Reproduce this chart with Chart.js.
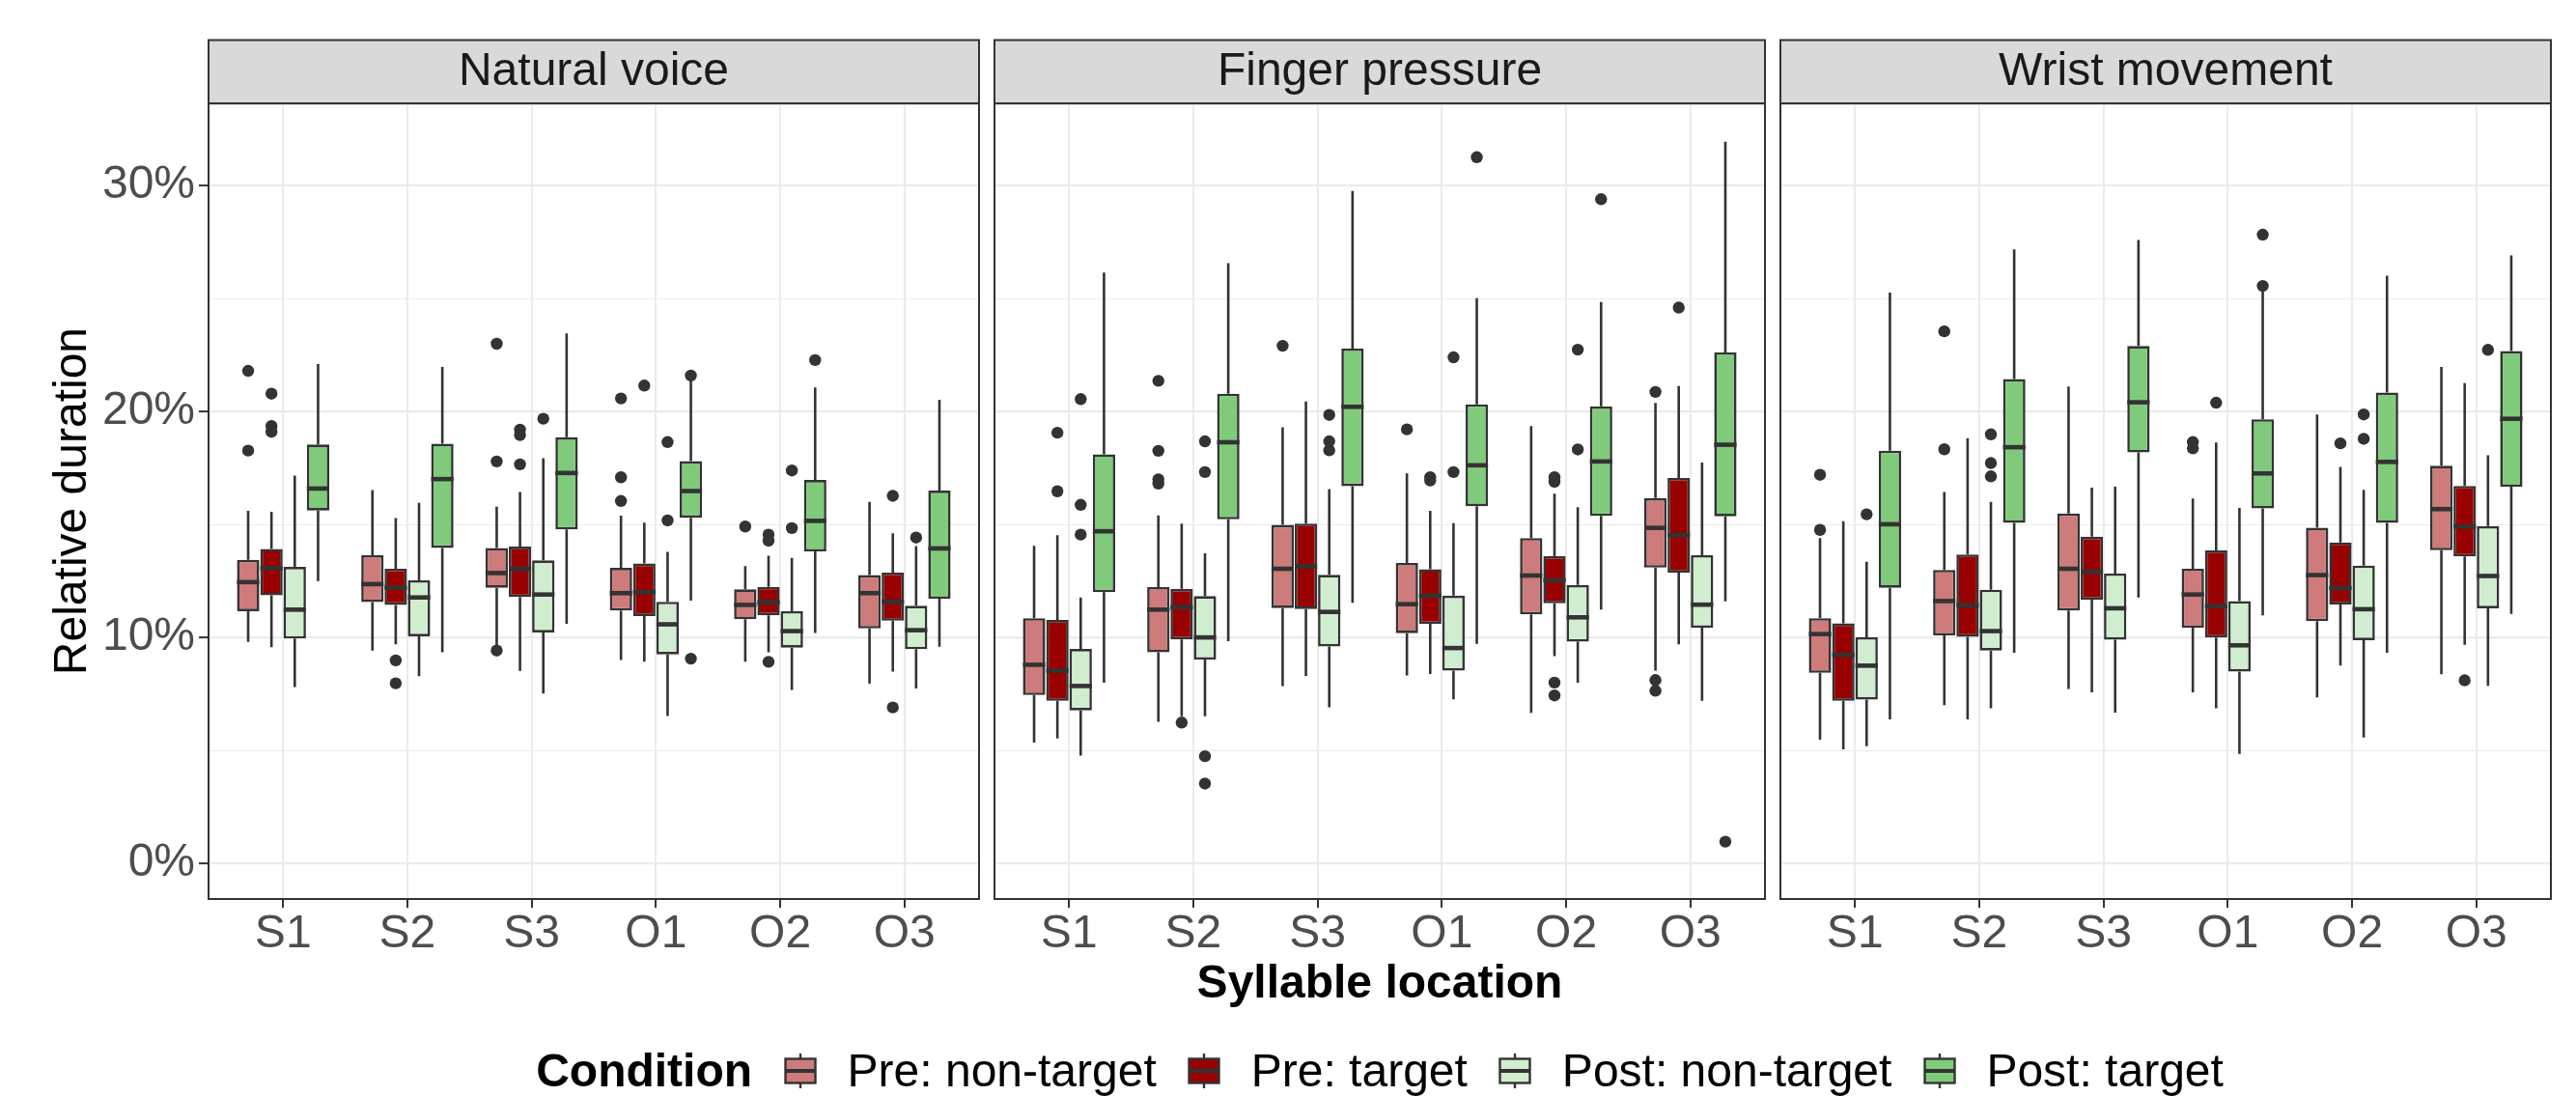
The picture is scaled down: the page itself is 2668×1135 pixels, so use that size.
<!DOCTYPE html>
<html>
<head>
<meta charset="utf-8">
<title>Relative duration by syllable location</title>
<script src="https://cdn.jsdelivr.net/npm/chart.js@4.4.1/dist/chart.umd.min.js"></script>
<style>
  html, body { margin: 0; padding: 0; background: #ffffff; }
  body { width: 2668px; height: 1135px; position: relative; overflow: hidden;
         font-family: 'Liberation Sans', Arial, Helvetica, sans-serif; }
  .panel { position: absolute; top: 0; }
  #legend { position: absolute; left: 216px; width: 2426px; top: 1081px; height: 56px;
            display: flex; justify-content: center; align-items: center;
            font-size: 48px; line-height: 56px; color: #000000; white-space: nowrap; }
  #legend .title { font-weight: bold; margin-right: 33px; }
  #legend svg { margin-right: 31.5px; display: block; }
  #legend .lab { margin-right: 32.5px; }
  #legend .lab:last-child { margin-right: 0; }
</style>
</head>
<body>
<canvas id="panel-natural" class="panel" width="1020" height="1135" style="left:0px"></canvas>
<canvas id="panel-finger" class="panel" width="810" height="1135" style="left:1024px"></canvas>
<canvas id="panel-wrist" class="panel" width="810" height="1135" style="left:1838px"></canvas>
<div id="legend"></div>

<script>
// Categories and labels
var syllables = ['S1', 'S2', 'S3', 'O1', 'O2', 'O3'];
var conditions = ['Pre: non-target', 'Pre: target', 'Post: non-target', 'Post: target'];
var facets = ['Natural voice', 'Finger pressure', 'Wrist movement'];
var majorTicks = [0, 10, 20, 30];

// Box statistics per syllable: [lower whisker, Q1, median, Q3, upper whisker] (%)
// Natural voice
var natPreNon  = [[9.8, 11.16, 12.45, 13.44, 15.6], [9.42, 11.56, 12.36, 13.64, 16.52], [9.65, 12.2, 12.85, 13.96, 15.79],
                  [9.0, 11.19, 11.96, 13.08, 15.39], [8.92, 10.81, 11.44, 12.13, 13.16], [7.95, 10.4, 11.96, 12.76, 16.0]];
var natPreTar  = [[9.57, 11.86, 13.06, 13.92, 15.56], [9.69, 11.44, 12.2, 13.04, 15.28], [8.52, 11.79, 13.04, 14.02, 16.44],
                  [8.92, 10.95, 12.01, 13.27, 15.08], [9.34, 10.98, 11.56, 12.24, 13.62], [8.49, 10.74, 11.58, 12.87, 14.61]];
var natPostNon = [[7.8, 9.95, 11.23, 13.12, 17.16], [8.28, 10.05, 11.77, 12.53, 15.96], [7.51, 10.22, 11.9, 13.41, 17.93],
                  [6.52, 9.25, 10.58, 11.58, 13.79], [7.67, 9.55, 10.28, 11.16, 13.52], [7.74, 9.48, 10.32, 11.4, 14.04]];
var natPostTar = [[12.5, 15.62, 16.59, 18.54, 22.1], [9.34, 13.96, 17.01, 18.58, 21.97], [10.6, 14.78, 17.28, 18.86, 23.46],
                  [11.63, 15.3, 16.48, 17.81, 21.4], [10.2, 13.81, 15.16, 16.97, 21.07], [9.59, 11.71, 13.94, 16.5, 20.52]];
var natPreNonOut  = [[21.8, 18.27], [], [23.0, 17.79, 9.42], [20.58, 17.09, 16.04], [14.91], []];
var natPreTarOut  = [[20.79, 19.36, 19.1], [8.98, 7.97], [19.2, 18.96, 17.66], [21.15], [14.55, 14.28, 8.92], [16.27, 6.9]];
var natPostNonOut = [[], [], [19.68], [18.65, 15.18], [17.39, 14.84], [14.42]];
var natPostTarOut = [[], [], [], [21.59, 9.06], [22.28], []];

// Finger pressure
var fpPreNon  = [[5.34, 7.45, 8.79, 10.85, 14.06], [6.26, 9.34, 11.23, 12.23, 15.4], [7.85, 11.3, 13.04, 14.98, 19.3],
                 [8.32, 10.19, 11.47, 13.3, 17.26], [6.66, 11.02, 12.74, 14.4, 19.36], [8.53, 13.09, 14.85, 16.17, 20.38]];
var fpPreTar  = [[5.53, 7.19, 8.53, 10.77, 14.53], [6.51, 9.91, 11.34, 12.15, 15.04], [8.3, 11.26, 13.15, 15.04, 20.45],
                 [8.38, 10.6, 11.85, 13.02, 15.6], [9.17, 11.51, 12.53, 13.6, 16.36], [9.7, 12.87, 14.53, 17.06, 21.13]];
var fpPostNon = [[4.77, 6.77, 7.85, 9.49, 11.77], [6.51, 9.02, 10.0, 11.83, 13.72], [6.91, 9.6, 11.13, 12.77, 16.57],
                 [7.26, 8.53, 9.53, 11.85, 15.06], [8.0, 9.81, 10.89, 12.32, 15.77], [7.19, 10.43, 11.45, 13.64, 17.74]];
var fpPostTar = [[8.0, 12.0, 14.7, 18.11, 26.15], [9.83, 15.23, 18.64, 20.79, 26.57], [11.53, 16.7, 20.21, 22.79, 29.77],
                 [9.72, 15.81, 17.62, 20.32, 25.02], [11.23, 15.38, 17.79, 20.23, 24.85], [11.6, 15.36, 18.53, 22.62, 31.94]];
var fpPreNonOut  = [[], [21.36, 18.26, 17.0, 16.81], [22.91], [19.21], [], [20.87, 8.11, 7.64]];
var fpPreTarOut  = [[19.06, 16.47], [6.23], [], [17.09, 16.95], [17.09, 16.89, 8.0, 7.43], [24.6]];
var fpPostNonOut = [[20.55, 15.87, 14.55], [18.68, 17.32, 4.74, 3.53], [19.85, 18.68, 18.28], [22.4, 17.32], [22.74, 18.32], []];
var fpPostTarOut = [[], [], [], [31.26], [29.4], [0.96]];

// Wrist movement
var wmPreNon  = [[5.47, 8.43, 10.15, 10.85, 14.4], [7.0, 10.09, 11.61, 12.99, 16.44], [7.72, 11.19, 13.04, 15.49, 21.11],
                 [7.57, 10.43, 11.9, 13.04, 16.15], [7.34, 10.72, 12.76, 14.86, 19.87], [8.37, 13.86, 15.68, 17.6, 21.97]];
var wmPreTar  = [[5.05, 7.19, 9.23, 10.62, 15.14], [6.37, 10.03, 11.42, 13.67, 18.82], [7.57, 11.67, 12.91, 14.46, 16.63],
                 [6.86, 9.99, 11.38, 13.85, 18.63], [8.75, 11.46, 12.19, 14.21, 17.55], [9.67, 13.58, 14.91, 16.71, 21.26]];
var wmPostNon = [[5.19, 7.25, 8.75, 10.01, 13.35], [6.86, 9.42, 10.28, 12.11, 16.0], [6.67, 9.9, 11.29, 12.83, 16.67],
                 [4.84, 8.49, 9.65, 11.61, 15.73], [5.57, 9.88, 11.25, 13.18, 16.53], [7.86, 11.29, 12.72, 14.93, 18.06]];
var wmPostTar = [[6.37, 12.2, 15.01, 18.27, 25.27], [9.32, 15.07, 18.42, 21.44, 27.18], [11.77, 18.19, 20.41, 22.9, 27.6],
                 [10.98, 15.71, 17.26, 19.66, 25.4], [9.32, 15.07, 17.77, 20.84, 26.01], [11.04, 16.67, 19.68, 22.68, 26.91]];
var wmPreNonOut  = [[17.2, 14.76], [23.55, 18.33], [], [18.65, 18.37], [], []];
var wmPreTarOut  = [[], [], [], [20.39], [18.59], [8.1]];
var wmPostNonOut = [[15.45], [18.99, 17.72, 17.13], [], [], [19.87, 18.79], [22.73]];
var wmPostTarOut = [[], [], [], [25.56, 27.83], [], []];

(function() {
    'use strict';

    var FONT = "'Liberation Sans', Arial, Helvetica, sans-serif";
    var FILLS = ['#CD7B7B', '#990000', '#D0EDD0', '#7FCB7B'];
    var INK = '#333333';
    var Y_MIN = -1.58, Y_MAX = 33.64;

    Chart.defaults.font.family = FONT;

    /**
     * Category axis with ggplot's discrete expansion (0.6 of a step on each side)
     */
    class FacetCategoryScale extends Chart.CategoryScale {
        configure() {
            super.configure();
            this._startValue = this.min - 0.6;
            this._valueRange = this.max - this.min + 1.2;
        }
    }
    FacetCategoryScale.id = 'facetCategory';
    FacetCategoryScale.defaults = Chart.CategoryScale.defaults;
    Chart.register(FacetCategoryScale);

    /**
     * Strip header, whiskers, medians, outliers and panel border
     */
    var boxplotParts = {
        id: 'boxplotParts',
        beforeDraw: function(chart) {
            var t = chart.titleBlock;
            if (!t) return;
            var ctx = chart.ctx;
            ctx.save();
            ctx.fillStyle = '#D9D9D9';
            ctx.fillRect(t.left, t.top, t.right - t.left, t.bottom - t.top);
            ctx.lineWidth = 2;
            ctx.strokeStyle = INK;
            ctx.strokeRect(t.left, t.top, t.right - t.left, t.bottom - t.top);
            ctx.restore();
        },
        beforeDatasetsDraw: function(chart) {
            var ctx = chart.ctx;
            var y = chart.scales.y;
            ctx.save();
            ctx.strokeStyle = INK;
            ctx.lineWidth = 2.6;
            chart.data.datasets.forEach(function(ds, d) {
                chart.getDatasetMeta(d).data.forEach(function(bar, j) {
                    var s = ds.stats[j];
                    ctx.beginPath();
                    ctx.moveTo(bar.x, y.getPixelForValue(s[4]));
                    ctx.lineTo(bar.x, y.getPixelForValue(s[3]));
                    ctx.moveTo(bar.x, y.getPixelForValue(s[1]));
                    ctx.lineTo(bar.x, y.getPixelForValue(s[0]));
                    ctx.stroke();
                });
            });
            ctx.restore();
        },
        afterDatasetsDraw: function(chart) {
            var ctx = chart.ctx;
            var y = chart.scales.y;
            var area = chart.chartArea;
            ctx.save();
            chart.data.datasets.forEach(function(ds, d) {
                chart.getDatasetMeta(d).data.forEach(function(bar, j) {
                    var s = ds.stats[j];
                    var ym = y.getPixelForValue(s[2]);
                    ctx.strokeStyle = INK;
                    ctx.lineWidth = 4.6;
                    ctx.beginPath();
                    ctx.moveTo(bar.x - bar.width / 2, ym);
                    ctx.lineTo(bar.x + bar.width / 2, ym);
                    ctx.stroke();

                    ctx.fillStyle = INK;
                    ds.outliers[j].forEach(function(v) {
                        ctx.beginPath();
                        ctx.arc(bar.x, y.getPixelForValue(v), 6.2, 0, Math.PI * 2);
                        ctx.fill();
                    });
                });
            });
            ctx.lineWidth = 2;
            ctx.strokeStyle = INK;
            ctx.strokeRect(area.left, area.top, area.right - area.left, area.bottom - area.top);
            ctx.restore();
        }
    };

    /**
     * Build one facet panel
     */
    function buildPanel(canvasId, title, groups, outliers, opts) {
        var datasets = groups.map(function(stats, k) {
            return {
                label: conditions[k],
                data: stats.map(function(s) { return [s[1], s[3]]; }),
                stats: stats,
                outliers: outliers[k],
                backgroundColor: FILLS[k],
                borderColor: INK,
                borderWidth: 2.6,
                borderSkipped: false,
                categoryPercentage: 0.75,
                barPercentage: 0.96
            };
        });

        return new Chart(document.getElementById(canvasId), {
            type: 'bar',
            data: { labels: syllables, datasets: datasets },
            plugins: [boxplotParts],
            options: {
                responsive: false,
                animation: false,
                devicePixelRatio: 1,
                layout: { padding: { top: 41.5, left: opts.padLeft, right: 6, bottom: 0 } },
                plugins: {
                    legend: { display: false },
                    tooltip: { enabled: false },
                    title: {
                        display: true,
                        text: title,
                        fullSize: false,
                        color: '#1A1A1A',
                        font: { size: 48, weight: 'normal', lineHeight: 1.2 },
                        padding: { top: 4.5, bottom: 3.5 }
                    }
                },
                scales: {
                    x: {
                        type: 'facetCategory',
                        offset: true,
                        afterFit: function(scale) { scale.height = 204; },
                        border: { display: false },
                        grid: { offset: false, color: '#EBEBEB', lineWidth: 2, drawTicks: true,
                                tickLength: 9, tickColor: INK, tickWidth: 2 },
                        ticks: { autoSkip: false, maxRotation: 0, padding: 4, color: '#4D4D4D',
                                 font: { size: 48, lineHeight: 1 } },
                        title: {
                            display: opts.xTitle,
                            text: 'Syllable location',
                            color: '#000000',
                            font: { size: 48, weight: 'bold', lineHeight: 1.2 },
                            padding: { top: 0, bottom: 86 }
                        }
                    },
                    y: {
                        type: 'linear',
                        min: Y_MIN,
                        max: Y_MAX,
                        afterFit: function(scale) { scale.width = opts.yWidth; },
                        border: { display: false },
                        grid: {
                            color: '#EBEBEB',
                            lineWidth: function(c) { return majorTicks.indexOf(c.tick && c.tick.value) >= 0 ? 2.2 : 1.1; },
                            drawTicks: opts.yLabels,
                            tickLength: 10,
                            tickWidth: 2,
                            tickColor: function(c) { return majorTicks.indexOf(c.tick && c.tick.value) >= 0 ? INK : 'rgba(0,0,0,0)'; }
                        },
                        ticks: {
                            display: opts.yLabels,
                            stepSize: 5,
                            includeBounds: false,
                            autoSkip: false,
                            padding: 4,
                            color: '#4D4D4D',
                            font: { size: 48, lineHeight: 1 },
                            callback: function(v) { return majorTicks.indexOf(v) >= 0 ? v + '%' : ''; }
                        },
                        title: {
                            display: opts.yLabels,
                            text: 'Relative duration',
                            color: '#000000',
                            font: { size: 48, weight: 'normal', lineHeight: 1.2 },
                            padding: { top: 47, bottom: 0 }
                        }
                    }
                }
            }
        });
    }

    /**
     * Legend row below the panels
     */
    function buildLegend() {
        var box = document.getElementById('legend');
        var head = document.createElement('span');
        head.className = 'title';
        head.textContent = 'Condition';
        box.appendChild(head);
        conditions.forEach(function(name, k) {
            var svg = '<svg width="34" height="36" viewBox="0 0 34 36">' +
                '<line x1="17" y1="0" x2="17" y2="36" stroke="' + INK + '" stroke-width="2.4"/>' +
                '<rect x="1.5" y="5.5" width="31" height="25" fill="' + FILLS[k] + '" stroke="' + INK + '" stroke-width="2.4"/>' +
                '<line x1="1.5" y1="18" x2="32.5" y2="18" stroke="' + INK + '" stroke-width="4"/>' +
                '</svg>';
            box.insertAdjacentHTML('beforeend', svg);
            var lab = document.createElement('span');
            lab.className = 'lab';
            lab.textContent = name;
            box.appendChild(lab);
        });
    }

    buildPanel('panel-natural', facets[0],
        [natPreNon, natPreTar, natPostNon, natPostTar],
        [natPreNonOut, natPreTarOut, natPostNonOut, natPostTarOut],
        { padLeft: 0, yWidth: 216, yLabels: true, xTitle: false });

    buildPanel('panel-finger', facets[1],
        [fpPreNon, fpPreTar, fpPostNon, fpPostTar],
        [fpPreNonOut, fpPreTarOut, fpPostNonOut, fpPostTarOut],
        { padLeft: 6, yWidth: 0, yLabels: false, xTitle: true });

    buildPanel('panel-wrist', facets[2],
        [wmPreNon, wmPreTar, wmPostNon, wmPostTar],
        [wmPreNonOut, wmPreTarOut, wmPostNonOut, wmPostTarOut],
        { padLeft: 6, yWidth: 0, yLabels: false, xTitle: false });

    buildLegend();
})();
</script>
</body>
</html>
